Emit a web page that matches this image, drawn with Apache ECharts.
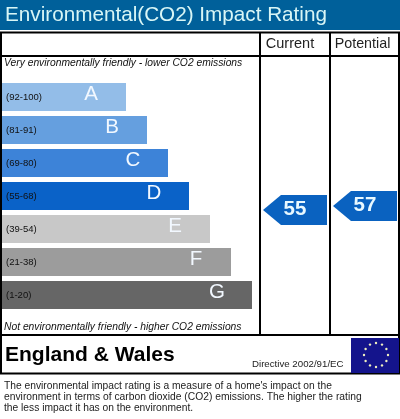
<!DOCTYPE html>
<html><head><meta charset="utf-8">
<style>html,body{margin:0;padding:0;background:#fff}#c{width:400px;height:419px}</style>
<script src="https://cdn.jsdelivr.net/npm/echarts@6/dist/echarts.min.js"></script>
</head><body><div id="c"></div>
<script>
const bands = ['A','B','C','D','E','F','G'];
const ranges = ['(92-100)','(81-91)','(69-80)','(55-68)','(39-54)','(21-38)','(1-20)'];
const barLengths = [124,145,166,187,208,229,250];
const barColors = ['#93bde8','#659fdf','#3d83d8','#0a62c8','#c8c8c8','#9c9c9c','#666666'];
const columns = ['Current','Potential'];
const ratings = [55,57];
const titleText = 'Environmental(CO2) Impact Rating';
const topNote = 'Very environmentally friendly - lower CO2 emissions';
const bottomNote = 'Not environmentally friendly - higher CO2 emissions';
const footLines = ["The environmental impact rating is a measure of a home's impact on the",
 'environment in terms of carbon dioxide (CO2) emissions. The higher the rating',
 'the less impact it has on the environment.'];
const F = '"Liberation Sans", Arial, sans-serif';
const blk = {stroke:'#000',lineWidth:2};
function ln(x1,y1,x2,y2){return {type:'line',shape:{x1,y1,x2,y2},style:blk,z:5};}
function tx(x,y,text,font,fill,extra){return {type:'text',x,y,z:6,style:Object.assign({text,font,fill,textVerticalAlign:'middle'},extra||{})};}
const stars=[];
for(let i=0;i<12;i++){const a=i*Math.PI/6;
 stars.push({type:'circle',z:7,shape:{cx:376+12*Math.sin(a),cy:355-12*Math.cos(a),r:1.2},style:{fill:'#f0f0c0'}});}
const chart = echarts.init(document.getElementById('c'),null,{renderer:'canvas'});
chart.setOption({
 animation:false,backgroundColor:'#fff',
 grid:[
  {left:2,top:80.5,width:250,height:231,containLabel:false},
  {left:260,top:120,width:140,height:200}
 ],
 xAxis:[
  {gridIndex:0,type:'value',min:0,max:250,show:false},
  {gridIndex:1,type:'category',data:columns,show:false}
 ],
 yAxis:[
  {gridIndex:0,type:'category',data:bands,inverse:true,show:false},
  {gridIndex:1,type:'value',min:0,max:100,show:false}
 ],
 series:[
  {type:'bar',xAxisIndex:0,yAxisIndex:0,barWidth:28,silent:true,
   data:barLengths.map((v,i)=>({value:v,itemStyle:{color:barColors[i]},
     label:{show:true,position:'insideRight',align:'center',offset:[0,-2.5],distance:35,formatter:bands[i],color:'#f2f8ff',fontFamily:F,fontSize:20.5}}))},
  {type:'bar',xAxisIndex:0,yAxisIndex:0,barWidth:28,barGap:'-100%',silent:true,
   itemStyle:{color:'transparent'},
   data:barLengths.map((v,i)=>({value:v,
     label:{show:true,position:'insideLeft',distance:4,formatter:ranges[i],color:'#111',fontFamily:F,fontSize:9.5}}))},
  {type:'scatter',xAxisIndex:1,yAxisIndex:1,silent:true,
   symbol:'path://M0 15 L18 0 L64 0 L64 30 L18 30 Z',symbolSize:[64,30],symbolKeepAspect:false,
   itemStyle:{color:'#0a62c0',opacity:1},
   label:{show:true,position:'inside',offset:[0,-1],formatter:p=>p.value[1],color:'#e8f8ff',fontFamily:F,fontWeight:'bold',fontSize:20.5},
   data:columns.map((c,i)=>[c,ratings[i]])}
 ],
 graphic:[].concat([
  {type:'rect',z:4,shape:{x:0,y:0,width:400,height:30},style:{fill:'#00609a'}},
  tx(5,15,titleText,'20.7px '+F,'#d8f6f6'),
  ln(0,32.5,400,32.5), ln(0,56,400,56), ln(0,335,400,335), ln(0,373.5,400,373.5),
  ln(1,32,1,374), ln(399,32,399,374),
  ln(260,32,260,335), ln(330,32,330,335),
  tx(290,44,columns[0],'14.5px '+F,'#222',{textAlign:'center'}),
  tx(362.5,44,columns[1],'14.3px '+F,'#222',{textAlign:'center'}),
  tx(4,63.5,topNote,'italic 10.3px '+F,'#111'),
  tx(4,327,bottomNote,'italic 10.3px '+F,'#111'),
  tx(5,355,'England & Wales','bold 21px '+F,'#000'),
  tx(252,364.5,'Directive 2002/91/EC','9.7px '+F,'#222'),
  {type:'rect',z:6,shape:{x:351,y:338,width:48,height:35},style:{fill:'#14148c'}}
 ],stars,[
  tx(4,386,footLines[0],'10.25px '+F,'#222'),
  tx(4,397,footLines[1],'10.3px '+F,'#222'),
  tx(4,408,footLines[2],'10.25px '+F,'#222')
 ])
});
</script></body></html>
